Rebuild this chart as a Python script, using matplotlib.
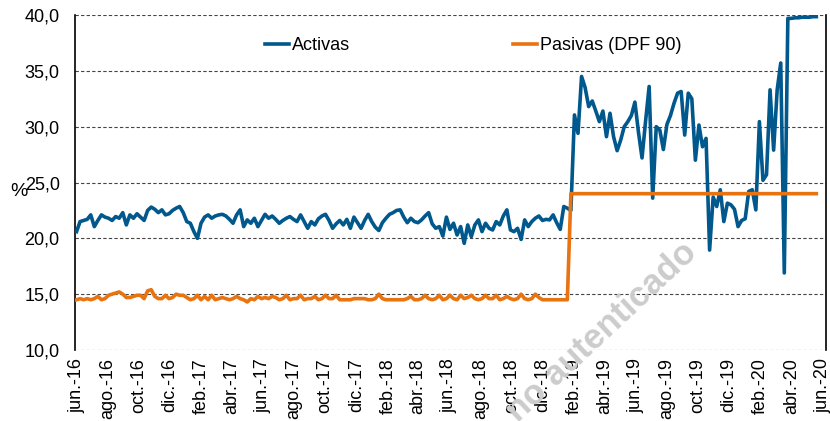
import matplotlib
matplotlib.use('Agg')
import matplotlib.pyplot as plt
import pandas as pd

plt.rcParams['font.family'] = ['Liberation Sans', 'DejaVu Sans']

# tasas (209 observaciones), jun-16 a may-20
fechas = pd.date_range('2016-06-01', '2020-05-20', periods=209)

activas = [
    20.6, 21.5, 21.6, 21.7, 22.1, 21.05, 21.6, 22.1, 21.9, 21.8,
    21.6, 21.95, 21.8, 22.3, 21.2, 22.1, 21.8, 22.2, 21.9, 21.6,
    22.5, 22.8, 22.6, 22.3, 22.55, 22.1, 22.2, 22.5, 22.7, 22.85,
    22.3, 21.5, 21.35, 20.6, 20.0, 21.35, 21.9, 22.1, 21.8, 22.0,
    22.1, 22.15, 22.0, 21.7, 21.35, 22.1, 22.55, 21.05, 21.65, 21.35,
    21.8, 21.05, 21.6, 22.15, 21.8, 22.0, 21.7, 21.35, 21.6, 21.8,
    21.95, 21.7, 21.5, 22.1, 21.5, 20.9, 21.5, 21.2, 21.75, 22.0,
    22.15, 21.6, 20.9, 21.3, 21.6, 21.2, 21.7, 20.9, 21.9, 21.4,
    20.9, 21.6, 22.15, 21.5, 21.0, 20.7, 21.4, 21.8, 22.15, 22.3,
    22.5, 22.55, 21.9, 21.4, 21.8, 21.5, 21.4, 21.65, 22.0, 22.3,
    21.3, 20.9, 21.05, 20.2, 21.9, 20.8, 21.35, 20.3, 21.05, 19.55,
    21.2, 20.15, 21.2, 21.65, 20.6, 21.35, 20.9, 20.75, 21.5, 21.2,
    22.0, 22.55, 20.75, 20.6, 20.9, 19.9, 21.65, 21.05, 21.5, 21.8,
    22.0, 21.6, 21.7, 21.65, 22.1, 21.4, 20.8, 22.85, 22.7, 22.5,
    31.05, 29.4, 34.5, 33.5, 31.8, 32.3, 31.4, 30.45, 31.4, 29.1,
    31.2, 29.1, 27.85, 28.8, 30.0, 30.45, 31.0, 32.2, 29.5, 27.2,
    30.5, 33.6, 23.6, 30.0, 29.7, 27.95, 30.2, 31.0, 32.1, 33.0,
    33.15, 29.25, 33.0, 32.5, 27.0, 30.15, 28.2, 28.95, 18.95, 23.7,
    22.85, 24.35, 21.5, 23.15, 23.0, 22.6, 21.05, 21.6, 21.75, 24.2,
    24.35, 22.55, 30.45, 25.2, 25.7, 33.3, 27.9, 33.3, 35.7, 16.9,
    39.7, 39.7, 39.75, 39.75, 39.8, 39.8, 39.8, 39.85, 39.85,
]

pasivas = [
    14.5, 14.6, 14.5, 14.6, 14.5, 14.6, 14.8, 14.5, 14.6, 14.9,
    15.0, 15.1, 15.2, 15.0, 14.7, 14.7, 14.8, 14.9, 14.9, 14.6,
    15.3, 15.4, 14.8, 14.6, 14.6, 14.9, 14.6, 14.7, 15.0, 14.9,
    14.9, 14.7, 14.5, 14.6, 14.9, 14.5, 14.8, 14.5, 14.9, 14.5,
    14.6, 14.7, 14.6, 14.5, 14.6, 14.8, 14.6, 14.5, 14.3, 14.6,
    14.5, 14.8, 14.6, 14.7, 14.6, 14.8, 14.7, 14.5, 14.6, 14.9,
    14.5, 14.6, 14.6, 14.9, 14.5, 14.6, 14.6, 14.8, 14.5, 14.6,
    14.9, 14.6, 14.6, 14.9, 14.5, 14.5, 14.5, 14.5, 14.6, 14.6,
    14.6, 14.6, 14.5, 14.5, 14.6, 15.0, 14.6, 14.5, 14.5, 14.5,
    14.5, 14.5, 14.5, 14.6, 14.8, 14.5, 14.5, 14.6, 14.9, 14.6,
    14.5, 14.6, 14.9, 14.5, 14.6, 14.9, 14.6, 14.5, 14.9, 14.6,
    14.7, 14.9, 14.6, 14.5, 14.6, 14.9, 14.6, 14.6, 14.9, 14.5,
    14.6, 14.8, 14.6, 14.5, 14.6, 15.0, 14.6, 14.5, 14.6, 15.0,
    14.7, 14.5, 14.5, 14.5, 14.5, 14.5, 14.5, 14.5, 14.5, 24.0,
    24.0, 24.0, 24.0, 24.0, 24.0, 24.0, 24.0, 24.0, 24.0, 24.0,
    24.0, 24.0, 24.0, 24.0, 24.0, 24.0, 24.0, 24.0, 24.0, 24.0,
    24.0, 24.0, 24.0, 24.0, 24.0, 24.0, 24.0, 24.0, 24.0, 24.0,
    24.0, 24.0, 24.0, 24.0, 24.0, 24.0, 24.0, 24.0, 24.0, 24.0,
    24.0, 24.0, 24.0, 24.0, 24.0, 24.0, 24.0, 24.0, 24.0, 24.0,
    24.0, 24.0, 24.0, 24.0, 24.0, 24.0, 24.0, 24.0, 24.0, 24.0,
    24.0, 24.0, 24.0, 24.0, 24.0, 24.0, 24.0, 24.0, 24.0,
]

meses = ['ene.', 'feb.', 'mar.', 'abr.', 'may.', 'jun.',
         'jul.', 'ago.', 'sep.', 'oct.', 'nov.', 'dic.']

azul = '#00588C'
naranja = '#E8730F'

fig = plt.figure(figsize=(8.3, 4.21), dpi=100)
ax = fig.add_axes([75 / 830, 1 - 350 / 421, 751 / 830, 335 / 421])

ax.plot(fechas, activas, color=azul, lw=2.6, label='Activas', zorder=3,
        solid_joinstyle='round')
ax.plot(fechas, pasivas, color=naranja, lw=2.6, label='Pasivas (DPF 90)', zorder=3,
        solid_joinstyle='round')

ax.set_ylim(10, 40)
ax.set_yticks([10, 15, 20, 25, 30, 35, 40])
ax.set_yticklabels([f'{v:.1f}'.replace('.', ',') for v in ax.get_yticks()], fontsize=13)
ax.yaxis.grid(True, linestyle=(0, (3, 2)), color='#444444', lw=0.8)
ax.set_axisbelow(True)

ax.set_xlim(pd.Timestamp('2016-05-29'), pd.Timestamp('2020-06-08'))
ticks = pd.date_range('2016-06-01', '2020-06-01', freq='2MS')
ax.set_xticks(ticks)
ax.set_xticklabels([f'{meses[t.month - 1]}-{t.strftime("%y")}' for t in ticks],
                   rotation=90, fontsize=13)
ax.tick_params(axis='both', length=0)
ax.tick_params(axis='y', pad=11)
ax.tick_params(axis='x', pad=6)

ax.spines['top'].set_visible(False)
ax.spines['bottom'].set_visible(False)
ax.spines['left'].set_linewidth(1.2)
ax.spines['right'].set_linewidth(1.2)

fig.text(19 / 830, 1 - 192 / 421, '%', fontsize=14, ha='center', va='center')

fig.legend(loc='center left', bbox_to_anchor=(265 / 830, 1 - 46 / 421), ncol=2,
           frameon=False, fontsize=13, handlelength=1.35, handletextpad=0.15,
           columnspacing=9.0, borderpad=0, borderaxespad=0)

fig.text(692 / 830, 1 - 248 / 421, 'no autenticado', fontsize=25, fontweight='bold',
         color='#cccccc', rotation=43, ha='right', va='center',
         rotation_mode='anchor', zorder=0)

fig.savefig('out.png', dpi=100)
